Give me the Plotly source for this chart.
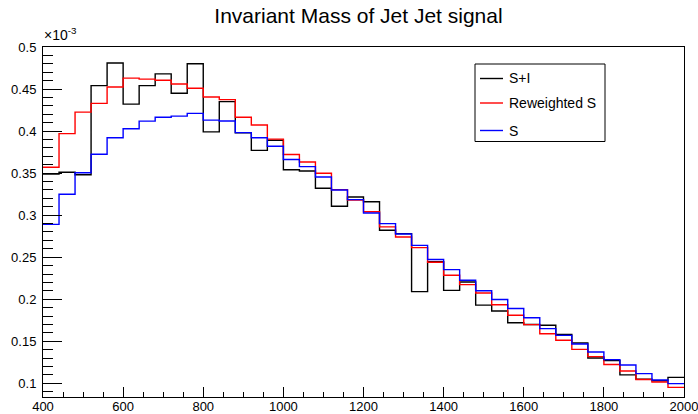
import plotly.graph_objects as go

# Histogram binning: 40 bins of width 40 GeV between 400 and 2000
bin_edges = [400 + 40 * i for i in range(41)]

# Bin contents (units of 1e-3)
s_plus_i = [0.349, 0.351, 0.348, 0.454, 0.481, 0.432, 0.454, 0.468, 0.445, 0.480,
            0.399, 0.435, 0.398, 0.377, 0.389, 0.354, 0.3525, 0.332, 0.3105, 0.3216,
            0.316, 0.282, 0.278, 0.209, 0.2445, 0.2105, 0.2205, 0.193, 0.186, 0.172,
            0.170, 0.169, 0.158, 0.148, 0.130, 0.127, 0.110, 0.105, 0.103, 0.107]

reweighted_s = [0.357, 0.397, 0.4225, 0.433, 0.4524, 0.463, 0.4618, 0.4604, 0.456, 0.451,
                0.4405, 0.4374, 0.4165, 0.4073, 0.3904, 0.3722, 0.3632, 0.3498, 0.3304, 0.318,
                0.304, 0.286, 0.274, 0.2614, 0.244, 0.2285, 0.2174, 0.2074, 0.1935, 0.181,
                0.1698, 0.159, 0.1512, 0.1404, 0.1317, 0.1224, 0.1147, 0.1046, 0.1016, 0.0952]

s_only = [0.289, 0.3248, 0.3504, 0.3724, 0.392, 0.4027, 0.4118, 0.4164, 0.4178, 0.421,
          0.413, 0.412, 0.3982, 0.392, 0.3819, 0.3662, 0.3577, 0.3454, 0.330, 0.3185,
          0.3026, 0.2899, 0.2775, 0.2641, 0.2473, 0.2352, 0.2225, 0.210, 0.1996, 0.189,
          0.178, 0.165, 0.157, 0.1468, 0.1372, 0.1282, 0.1218, 0.1115, 0.104, 0.0996]

series_names = ["S+I", "Reweighted S", "S"]
series_colors = ["#000000", "#ff0000", "#0000ff"]

ytick_vals = [0.1, 0.15, 0.2, 0.25, 0.3, 0.35, 0.4, 0.45, 0.5]
ytick_text = ["0.1", "0.15", "0.2", "0.25", "0.3", "0.35", "0.4", "0.45", "0.5"]
xtick_vals = [400, 600, 800, 1000, 1200, 1400, 1600, 1800, 2000]
xtick_text = [str(v) for v in xtick_vals]

W, H = 698, 414
M_L, M_R, M_T, M_B = 43, 14, 47, 17
PLOT_W = W - M_L - M_R
PLOT_H = H - M_T - M_B
FONT = "Liberation Sans, Arial, Helvetica, sans-serif"


def px_to_paper(px, py):
    """Convert page pixel position to paper coordinates."""
    return (px - M_L) / PLOT_W, (H - M_B - py) / PLOT_H


fig = go.Figure()

for name, vals, color in zip(series_names, [s_plus_i, reweighted_s, s_only], series_colors):
    fig.add_trace(go.Scatter(
        x=bin_edges,
        y=vals + [vals[-1]],
        mode="lines",
        line=dict(color=color, width=1.4, shape="hv"),
        name=name,
        showlegend=False,
        hoverinfo="skip",
    ))

# Legend box drawn with shapes and text
shapes = []
annotations = []
x0, y0 = px_to_paper(475, 64)
x1, y1 = px_to_paper(605, 141.5)
shapes.append(dict(type="rect", xref="paper", yref="paper", x0=x0, y0=y1, x1=x1, y1=y0,
                   line=dict(color="black", width=1), fillcolor="white", layer="above"))
for name, color, py in zip(series_names, series_colors, [78.5, 103, 130.5]):
    lx0, ly = px_to_paper(480, py)
    lx1, _ = px_to_paper(503, py)
    shapes.append(dict(type="line", xref="paper", yref="paper", x0=lx0, x1=lx1, y0=ly, y1=ly,
                       line=dict(color=color, width=1.4), layer="above"))
    tx, _ = px_to_paper(506.5, py)
    annotations.append(dict(text=name, xref="paper", yref="paper", x=tx, y=ly,
                            xanchor="left", yanchor="middle", showarrow=False,
                            font=dict(family=FONT, size=14, color="black")))

# Axis exponent marker
ex, ey = px_to_paper(42, 45)
annotations.append(dict(text="×10<sup>-3</sup>", xref="paper", yref="paper", x=ex, y=ey,
                        xanchor="left", yanchor="bottom", showarrow=False,
                        font=dict(family=FONT, size=14, color="black")))

fig.update_layout(
    width=W, height=H,
    margin=dict(l=M_L, r=M_R, t=M_T, b=M_B, pad=0, autoexpand=False),
    paper_bgcolor="white",
    plot_bgcolor="white",
    font=dict(family=FONT, size=13, color="black"),
    title=dict(text="Invariant Mass of Jet Jet signal", x=358.5 / W, xanchor="center",
               xref="container", yref="container", y=1 - 16 / H, yanchor="middle",
               font=dict(family=FONT, size=21, color="black")),
    shapes=shapes,
    annotations=annotations,
    xaxis=dict(
        range=[400, 2000], showgrid=False, zeroline=False, automargin=False,
        showline=True, linecolor="black", linewidth=1, mirror=True,
        tickmode="array", tickvals=xtick_vals, ticktext=xtick_text,
        ticks="inside", ticklen=10, tickwidth=1, tickcolor="black",
        minor=dict(dtick=50, tick0=400, ticks="inside", ticklen=5, tickwidth=1, tickcolor="black", showgrid=False),
        tickfont=dict(family=FONT, size=13, color="black"),
        ticklabelstandoff=-3,
        ticklabeloverflow="allow",
    ),
    yaxis=dict(
        range=[0.0837, 0.5], showgrid=False, zeroline=False, automargin=False,
        showline=True, linecolor="black", linewidth=1, mirror=True,
        tickmode="array", tickvals=ytick_vals, ticktext=ytick_text,
        ticks="inside", ticklen=19, tickwidth=1, tickcolor="black",
        minor=dict(dtick=0.01, tick0=0.0, ticks="inside", ticklen=10, tickwidth=1, tickcolor="black", showgrid=False),
        tickfont=dict(family=FONT, size=13, color="black"),
        ticklabelstandoff=3,
        ticklabeloverflow="allow",
    ),
)

fig.write_html("out.html")
